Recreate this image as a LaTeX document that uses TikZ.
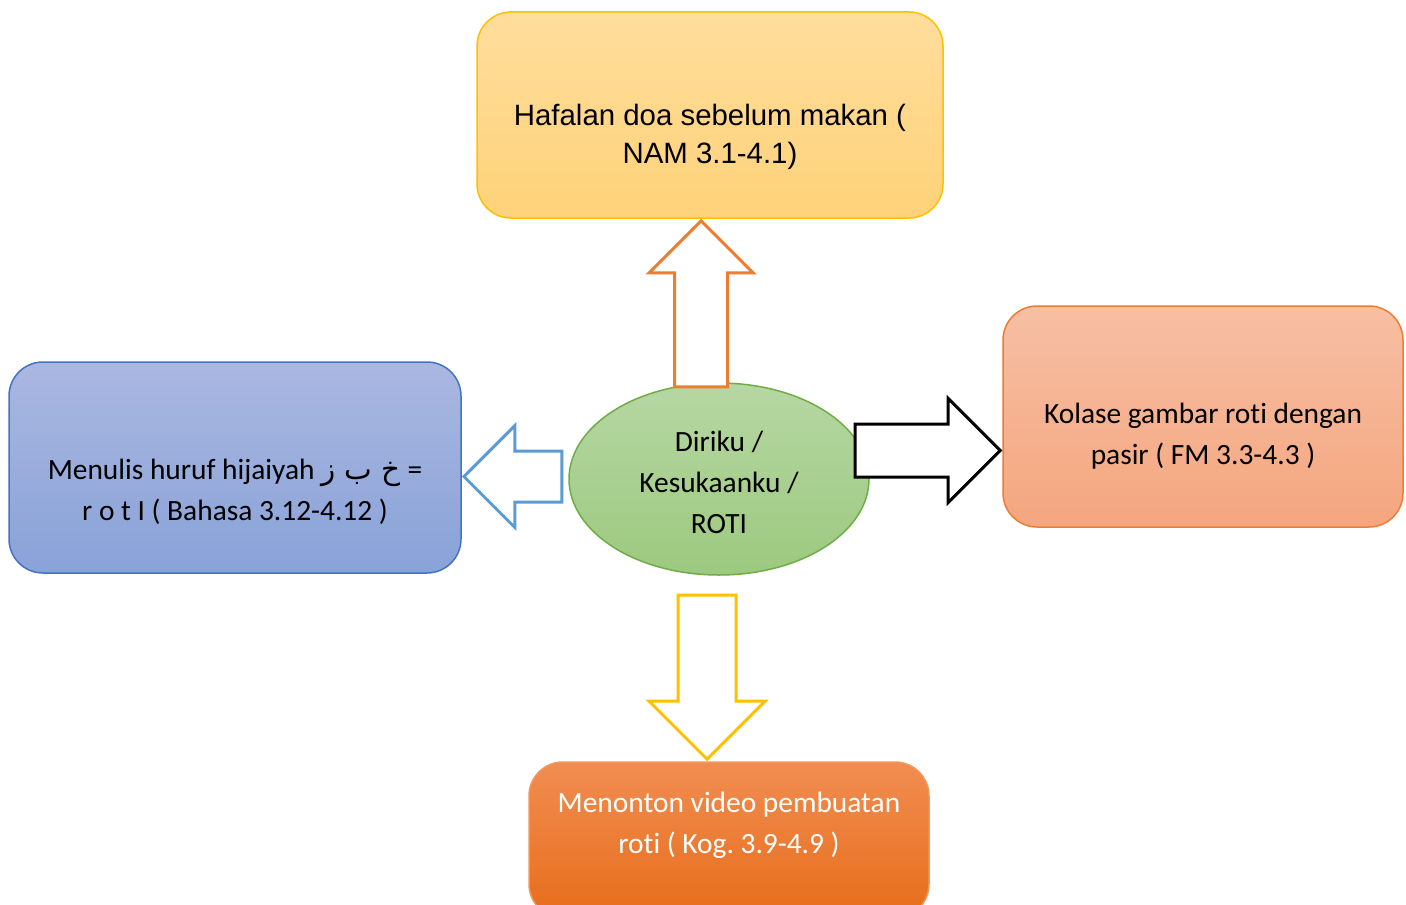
\documentclass[tikz,border=0pt]{standalone}
\usepackage{fontspec}
\setmainfont{Carlito}[Ligatures=NoCommon]
\newfontfamily\arialfont{Liberation Sans}
\newfontfamily\arabicfont[Script=Arabic]{DejaVu Sans}
\TeXXeTstate=1
\frenchspacing
\usetikzlibrary{shapes,arrows,positioning,calc}

\definecolor{yelTop}{RGB}{255,221,156}
\definecolor{yelBot}{RGB}{254,210,121}
\definecolor{yelLine}{RGB}{255,192,0}
\definecolor{bluTop}{RGB}{170,184,225}
\definecolor{bluBot}{RGB}{137,162,216}
\definecolor{bluLine}{RGB}{68,114,196}
\definecolor{bluArr}{RGB}{91,155,213}
\definecolor{salTop}{RGB}{247,191,164}
\definecolor{salBot}{RGB}{244,166,127}
\definecolor{orLine}{RGB}{237,125,49}
\definecolor{orTop}{RGB}{241,141,82}
\definecolor{orBot}{RGB}{231,109,26}
\definecolor{grTop}{RGB}{182,215,163}
\definecolor{grBot}{RGB}{156,201,127}
\definecolor{grLine}{RGB}{112,173,71}

\begin{document}
\begin{tikzpicture}[x=0.5pt,y=-0.5pt,font=\fontsize{14.7}{20.5}\selectfont]
  \tikzstyle{box}=[rounded corners=17pt,line width=0.75pt,inner sep=0pt]
  \tikzstyle{txt}=[align=center,inner sep=0pt]
  \tikzstyle{blk}=[single arrow,draw,fill=white,line width=1.5pt,anchor=tip,
                   inner xsep=0pt,single arrow tip angle=90]

  \useasboundingbox (0,0) rectangle (1406,904);

  \node[box,draw=yelLine,top color=yelTop,bottom color=yelBot,
        minimum width=233pt,minimum height=103pt] (doa)    at (710,115) {};
  \node[box,draw=bluLine,top color=bluTop,bottom color=bluBot,
        minimum width=226pt,minimum height=105.5pt] (huruf) at (235,467.5) {};
  \node[box,draw=orLine,top color=salTop,bottom color=salBot,
        minimum width=200pt,minimum height=110.5pt] (kolase) at (1203,416.5) {};
  \node[box,draw=orLine!80!white,top color=orTop,bottom color=orBot,
        minimum width=200pt,minimum height=78pt] (video) at (729,840) {};
  \node[ellipse,draw=grLine,line width=0.75pt,top color=grTop,bottom color=grBot,
        minimum width=150pt,minimum height=96pt,inner sep=0pt] (roti) at (719,479) {};

  \node[txt,font=\arialfont\fontsize{14.7}{19}\selectfont] (doaT) at ($(doa.center)+(0,22)$)
       {Hafalan doa sebelum makan (\\NAM 3.1-4.1)};
  \node[txt] (hurufT) at ($(huruf.center)+(0,24)$)
       {Menulis huruf hijaiyah {\arabicfont\beginR خ ب ز\endR} =\\r o t I ( Bahasa 3.12-4.12 )};
  \node[txt] (kolaseT) at ($(kolase.center)+(0,20)$)
       {Kolase gambar roti dengan\\pasir ( FM 3.3-4.3 )};
  \node[txt,text=white] (videoT) at ($(video.center)+(0,-15)$)
       {Menonton video pembuatan\\roti ( Kog. 3.9-4.9 )};
  \node[txt] (rotiT) at ($(roti.center)+(0,3)$)
       {Diriku /\\Kesukaanku /\\ROTI};

  % block arrows out of the ellipse
  \node[blk,draw=orLine,rotate=90,minimum height=83pt,inner ysep=12.5pt,
        single arrow head extend=12.75pt] (toDoa) at ($(doa.south)+(-9,0)$) {};
  \node[blk,draw=bluArr,rotate=180,minimum height=49pt,inner ysep=12pt,
        single arrow head extend=12.75pt] (toHuruf) at ($(huruf.east)+(0,9)$) {};
  \node[blk,draw=black,minimum height=72.5pt,inner ysep=12.5pt,
        single arrow head extend=12.75pt] (toKolase) at ($(kolase.west)+(0,34)$) {};
  \node[blk,draw=yelLine,rotate=-90,minimum height=82pt,inner ysep=13.75pt,
        single arrow head extend=14.5pt] (toVideo) at ($(video.north)+(-22,0)$) {};
\end{tikzpicture}
\end{document}
